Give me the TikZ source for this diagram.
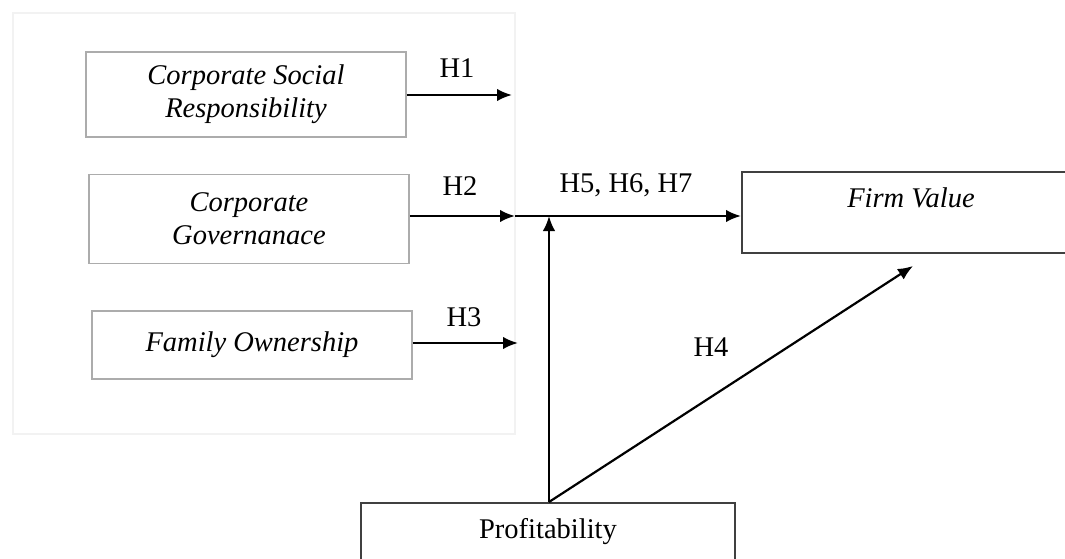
\documentclass[tikz,border=0pt]{standalone}
\usepackage{fontspec}
\setmainfont{Liberation Serif}
\usetikzlibrary{arrows.meta}

\newcommand{\diagfont}{\fontsize{28.5}{33}\selectfont}

\begin{document}
\begin{tikzpicture}[x=1pt,y=-1pt,
        varbox/.style={draw=gray!65, line width=1.6pt, align=center, inner sep=0pt, font=\diagfont\itshape},
        mainbox/.style={draw=black!75, line width=2pt, align=center, inner sep=0pt, font=\diagfont},
        hyp/.style={inner sep=0pt, font=\diagfont},
        link/.style={-{Latex[length=15pt,width=12.5pt]}, line width=2.2pt}]
    \useasboundingbox (0,0) rectangle (1065,559);
    % faint panel behind the left boxes
    \draw[gray!10, line width=2pt] (13,13) rectangle (515,434);

    % variables
    \node[varbox, minimum width=320pt, minimum height=85pt] (csr) at (246,94.5) {Corporate Social\\Responsibility};
    \node[varbox, minimum width=320pt, minimum height=89pt] (cg) at (249,219) {Corporate\\Governanace};
    \node[varbox, minimum width=320pt, minimum height=68pt] (fo) at (252,345) {Family Ownership};
    \node[mainbox, minimum width=338pt, minimum height=81pt,
        label={[anchor=center, yshift=-27pt, font=\diagfont\itshape]north:Firm Value}] (fv) at (911,212.5) {};
    \node[mainbox, minimum width=374pt, minimum height=58pt] (prof) at (548,532) {Profitability};

    \coordinate (h1end) at (512,95);
    \coordinate (h2end) at (515,216);
    \coordinate (h3end) at (518,343);
    \coordinate (h4end) at (913,266);
    \coordinate (j) at (549,216);

    % paths
    \draw[link] (csr.east |- h1end) -- (h1end);
    \draw[link] (cg.east |- j) -- (h2end);
    \draw[link] (h2end) -- (fv.west |- j);
    \draw[link] (fo.east |- h3end) -- (h3end);
    \draw[link] (prof.north -| j) -- (j);
    \draw[link] (prof.north -| j) -- (h4end);

    % hypotheses
    \node[hyp] (hA) at (457,68) {H1};
    \node[hyp] (hB) at (460,186) {H2};
    \node[hyp] (hC) at (464,317) {H3};
    \node[hyp] (hD) at (711,347) {H4};
    \node[hyp] (hE) at (626,185) {H5, H6, H7};
\end{tikzpicture}
\end{document}
